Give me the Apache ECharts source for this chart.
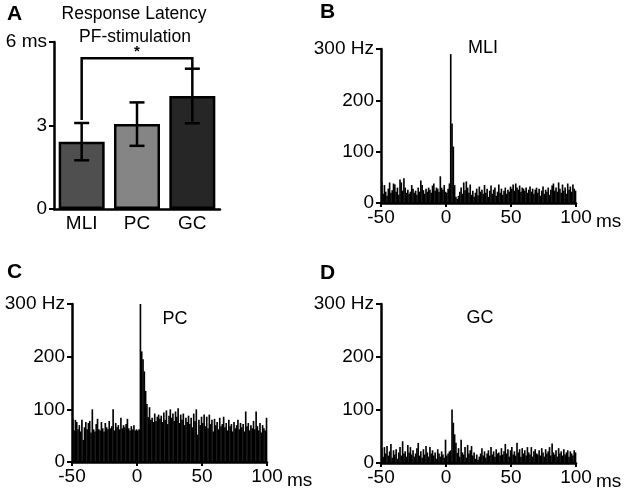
<!DOCTYPE html>
<html><head><meta charset="utf-8">
<script src="https://cdn.jsdelivr.net/npm/echarts@6/dist/echarts.min.js"></script>
<style>html,body{margin:0;padding:0;background:#fff}#c{width:630px;height:493px}</style>
</head><body><div id="c"></div>
<script>
// ---- Panel A: response latency (ms) ----
const latencyCategories = ['MLI', 'PC', 'GC'];
const latencyMeans = [2.42, 3.05, 4.06];
const latencyErrors = [0.67, 0.78, 0.98];
// significance bracket: [fromIndex, toIndex, level, leftLegEnd, rightLegEnd]
const sigBracket = [0, 2, 5.42, 3.2, 5.03];
const latencyTicks = [0, 3, 6];

// ---- Histograms (Hz), 1 ms bins from -50 to 100 ms ----
const binStartMs = -50;
const binWidthMs = 1;
const histTicksX = [-50, 0, 50, 100];
const histTicksY = [0, 100, 200, 300];

const mliRate = [
  40, 18, 35, 22, 14, 28, 40, 20, 25, 38,
  36, 22, 30, 16, 46, 40, 24, 48, 30, 20,
  26, 18, 22, 35, 28, 20, 24, 16, 30, 22,
  44, 35, 25, 18, 28, 22, 30, 26, 20, 34,
  38, 24, 30, 28, 22, 52, 30, 26, 35, 22,
  20, 28, 38, 290, 155, 110, 35, 12, 8, 14,
  22, 30, 18, 40, 25, 42, 30, 20, 36, 16,
  24, 12, 20, 28, 15, 32, 22, 26, 18, 35,
  20, 28, 12, 24, 34, 18, 26, 30, 14, 22,
  36, 20, 28, 16, 24, 30, 18, 26, 22, 32,
  28, 36, 24, 38, 30, 26, 34, 22, 30, 28,
  24, 30, 20, 26, 32, 22, 28, 18, 26, 30,
  20, 28, 14, 24, 32, 18, 26, 22, 30, 16,
  26, 34, 38, 24, 30, 22, 40, 28, 20, 36,
  24, 30, 18, 38, 26, 32, 22, 36, 28, 24
];
const pcRate = [
  82, 60, 80, 76, 62, 70, 58, 80, 42, 66,
  76, 62, 74, 78, 56, 100, 62, 58, 72, 82,
  62, 60, 76, 64, 58, 74, 66, 62, 78, 64,
  68, 100, 60, 74, 66, 70, 62, 84, 64, 70,
  66, 72, 82, 64, 60, 68, 62, 70, 60, 62,
  60, 62, 300, 210, 195, 172, 135, 110, 85, 104,
  80, 84, 76, 92, 78, 86, 90, 82, 88, 76,
  94, 80, 98, 72, 88, 100, 84, 92, 78, 96,
  86, 102, 74, 90, 80, 92, 70, 84, 76, 88,
  72, 84, 66, 92, 78, 100, 52, 80, 70, 86,
  74, 90, 68, 86, 64, 90, 72, 80, 58, 82,
  70, 76, 62, 84, 68, 72, 86, 66, 74, 60,
  80, 68, 72, 58, 76, 64, 70, 80, 62, 74,
  66, 72, 58, 96, 68, 74, 60, 70, 64, 78,
  62, 96, 68, 60, 74, 56, 70, 64, 60, 84
];
const gcRate = [
  28, 12, 30, 18, 32, 14, 22, 36, 10, 24,
  16, 26, 8, 20, 30, 14, 41, 18, 22, 12,
  34, 20, 30, 16, 24, 12, 18, 28, 38, 14,
  22, 10, 26, 16, 32, 20, 12, 30, 18, 24,
  14, 20, 8, 26, 18, 12, 22, 16, 10, 44,
  14, 18, 22, 24, 101, 76, 54, 38, 19, 28,
  12, 44, 20, 16, 30, 10, 34, 18, 24, 32,
  14, 20, 8, 16, 6, 12, 18, 28, 14, 22,
  10, 18, 24, 14, 30, 16, 22, 12, 26, 18,
  20, 14, 28, 16, 22, 36, 18, 26, 12, 24,
  30, 16, 22, 14, 38, 20, 26, 12, 28, 18,
  24, 14, 30, 20, 16, 30, 12, 22, 26, 18,
  16, 24, 14, 28, 20, 12, 26, 18, 22, 30,
  14, 37, 20, 16, 24, 12, 28, 18, 22, 14,
  26, 16, 20, 24, 12, 22, 18, 14, 24, 20
];

const FONT = '"Liberation Sans", Arial, Helvetica, sans-serif';
const BLACK = '#000';
const barColors = ['#4f4f4f', '#858585', '#262626'];

function binned(vals) {
  return vals.map((v, i) => [binStartMs + i * binWidthMs, v]);
}

const chart = echarts.init(document.getElementById('c'), null, { renderer: 'canvas' });

const labelStyle = { color: BLACK, fontSize: 19, fontFamily: FONT };

function histX(gi) {
  return {
    type: 'value', gridIndex: gi,
    min: histTicksX[0], max: histTicksX[histTicksX.length - 1], interval: 50,
    axisLine: { show: true, onZero: false, lineStyle: { color: BLACK, width: 2.5 } },
    axisTick: { show: true, length: 4, lineStyle: { color: BLACK, width: 2 } },
    splitLine: { show: false },
    axisLabel: Object.assign({ margin: 5 }, labelStyle),
    name: 'ms', nameLocation: 'end', nameGap: 20,
    nameTextStyle: { color: BLACK, fontSize: 19, fontFamily: FONT, verticalAlign: 'top', padding: [9, 0, 0, 0] }
  };
}
function histY(gi) {
  return {
    type: 'value', gridIndex: gi,
    min: histTicksY[0], max: histTicksY[histTicksY.length - 1], interval: 100,
    axisLine: { show: true, onZero: false, lineStyle: { color: BLACK, width: 2.5 } },
    axisTick: { show: true, length: 5, lineStyle: { color: BLACK, width: 2 } },
    splitLine: { show: false },
    axisLabel: Object.assign({ margin: 7, formatter: v => v === 300 ? '300 Hz' : String(v) }, labelStyle)
  };
}
function histSeries(idx, vals) {
  return {
    type: 'custom', xAxisIndex: idx, yAxisIndex: idx, z: 1,
    data: binned(vals), encode: { x: 0, y: 1 }, silent: true,
    renderItem: function (params, api) {
      const x0 = api.value(0), v = api.value(1);
      const p0 = api.coord([x0, v]);
      const p1 = api.coord([x0 + binWidthMs, 0]);
      return {
        type: 'rect',
        shape: { x: p0[0], y: p0[1], width: p1[0] - p0[0] + 0.35, height: p1[1] - p0[1] },
        style: { fill: BLACK }
      };
    }
  };
}

const option = {
  animation: false,
  backgroundColor: '#fff',
  textStyle: { fontFamily: FONT },
  grid: [
    { left: 54, top: 42, width: 166, height: 167 },
    { left: 381, top: 49, width: 195, height: 154 },
    { left: 72, top: 304, width: 195, height: 158 },
    { left: 381, top: 304, width: 195, height: 159 }
  ],
  xAxis: [
    {
      type: 'category', gridIndex: 0, data: latencyCategories,
      axisLine: { show: true, lineStyle: { color: BLACK, width: 2.5 } }, axisTick: { show: false },
      axisLabel: Object.assign({ margin: 5 }, labelStyle)
    },
    histX(1), histX(2), histX(3)
  ],
  yAxis: [
    {
      type: 'value', gridIndex: 0, min: latencyTicks[0], max: latencyTicks[2], interval: 3,
      axisLine: { show: true, onZero: false, lineStyle: { color: BLACK, width: 2.5 } },
      axisTick: { show: true, length: 5, lineStyle: { color: BLACK, width: 2 } },
      splitLine: { show: false },
      axisLabel: Object.assign({ margin: 7, formatter: v => v === 6 ? '6 ms' : String(v) }, labelStyle)
    },
    histY(1), histY(2), histY(3)
  ],
  series: [
    {
      type: 'bar', xAxisIndex: 0, yAxisIndex: 0, barWidth: 46,
      data: latencyMeans.map((m, i) => ({ value: m, itemStyle: { color: barColors[i] } })),
      itemStyle: { borderColor: BLACK, borderWidth: 2.5 }
    },
    {
      type: 'custom', xAxisIndex: 0, yAxisIndex: 0, z: 5,
      data: latencyMeans.map((m, i) => [i, m, latencyErrors[i]]),
      encode: { x: 0, y: 1 },
      renderItem: function (params, api) {
        const x = api.value(0), m = api.value(1), e = api.value(2);
        const t = api.coord([x, m + e]), b = api.coord([x, m - e]);
        const hw = 7.5, st = { stroke: BLACK, lineWidth: 2.5 };
        return {
          type: 'group', children: [
            { type: 'line', shape: { x1: t[0], y1: t[1], x2: b[0], y2: b[1] }, style: st },
            { type: 'line', shape: { x1: t[0] - hw, y1: t[1], x2: t[0] + hw, y2: t[1] }, style: st },
            { type: 'line', shape: { x1: b[0] - hw, y1: b[1], x2: b[0] + hw, y2: b[1] }, style: st }
          ]
        };
      }
    },
    {
      type: 'custom', xAxisIndex: 0, yAxisIndex: 0, z: 5,
      data: [sigBracket],
      encode: { x: 0, y: 2 },
      renderItem: function (params, api) {
        const a = api.value(0), b = api.value(1), lv = api.value(2), le = api.value(3), re = api.value(4);
        const p1 = api.coord([a, le]), p2 = api.coord([a, lv]), p3 = api.coord([b, lv]), p4 = api.coord([b, re]);
        const mid = api.coord([(a + b) / 2, lv]);
        return {
          type: 'group', children: [
            { type: 'polyline', shape: { points: [p1, p2, p3, p4] }, style: { stroke: BLACK, lineWidth: 2.5, fill: null } },
            { type: 'text', x: mid[0], y: mid[1] + 1, style: { text: '*', font: 'bold 15px ' + FONT, fill: BLACK, textAlign: 'center', textVerticalAlign: 'bottom' } }
          ]
        };
      }
    },
    histSeries(1, mliRate),
    histSeries(2, pcRate),
    histSeries(3, gcRate)
  ],
  graphic: [
    { type: 'text', x: 7, y: 14, style: { text: 'A', font: 'bold 21px ' + FONT, fill: BLACK, textVerticalAlign: 'middle' } },
    { type: 'text', x: 134, y: 14, style: { text: 'Response Latency', font: '17.5px ' + FONT, fill: BLACK, textAlign: 'center', textVerticalAlign: 'middle' } },
    { type: 'text', x: 135, y: 37, style: { text: 'PF-stimulation', font: '17.5px ' + FONT, fill: BLACK, textAlign: 'center', textVerticalAlign: 'middle' } },
    { type: 'text', x: 320, y: 12, style: { text: 'B', font: 'bold 21px ' + FONT, fill: BLACK, textVerticalAlign: 'middle' } },
    { type: 'text', x: 483, y: 48, style: { text: 'MLI', font: '18px ' + FONT, fill: BLACK, textAlign: 'center', textVerticalAlign: 'middle' } },
    { type: 'text', x: 7, y: 272, style: { text: 'C', font: 'bold 21px ' + FONT, fill: BLACK, textVerticalAlign: 'middle' } },
    { type: 'text', x: 175, y: 319, style: { text: 'PC', font: '18px ' + FONT, fill: BLACK, textAlign: 'center', textVerticalAlign: 'middle' } },
    { type: 'text', x: 320, y: 273, style: { text: 'D', font: 'bold 21px ' + FONT, fill: BLACK, textVerticalAlign: 'middle' } },
    { type: 'text', x: 480, y: 318, style: { text: 'GC', font: '18px ' + FONT, fill: BLACK, textAlign: 'center', textVerticalAlign: 'middle' } }
  ]
};
chart.setOption(option);
</script>
</body></html>
